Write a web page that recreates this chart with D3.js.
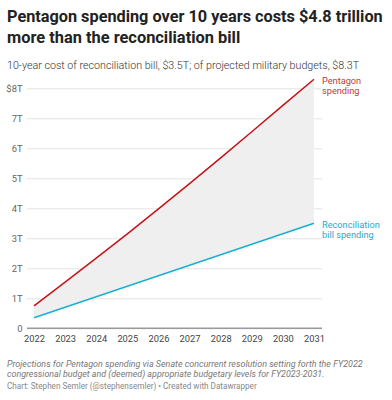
<!DOCTYPE html>
<html>
<head>
<meta charset="utf-8">
<script src="https://cdn.jsdelivr.net/npm/d3@7"></script>
<style>
  body { margin: 0; background: #fff; font-family: Roboto, "Noto Sans", sans-serif; }
  svg text { font-family: Roboto, "Noto Sans", sans-serif; }
</style>
</head>
<body>
<svg id="chart" width="392" height="400"></svg>
<script>
// data (cumulative, trillions of dollars)
const years = [2022, 2023, 2024, 2025, 2026, 2027, 2028, 2029, 2030, 2031];
const pentagon = [0.75, 1.54, 2.34, 3.15, 3.98, 4.82, 5.68, 6.55, 7.43, 8.3];
const reconciliation = [0.35, 0.7, 1.05, 1.4, 1.75, 2.1, 2.45, 2.8, 3.15, 3.5];
const yTicks = [0, 1, 2, 3, 4, 5, 6, 7, 8];

const title = ["Pentagon spending over 10 years costs $4.8 trillion", "more than the reconciliation bill"];
const subtitle = "10-year cost of reconciliation bill, $3.5T; of projected military budgets, $8.3T";
const notes = ["Projections for Pentagon spending via Senate concurrent resolution setting forth the FY2022",
  "congressional budget and (deemed) appropriate budgetary levels for FY2023-2031."];
const credit = "Chart: Stephen Semler (@stephensemler) \u2022 Created with Datawrapper";

let svg = d3.select("#chart");

// shrink a text so it spans the given width
function fit(sel, w) {
  let fs = +sel.attr("font-size");
  let len = sel.node().getComputedTextLength();
  sel.attr("font-size", (fs * w / len).toFixed(2));
  return sel;
}

// header
fit(svg.append("text").attr("x", 7).attr("y", 22)
  .attr("font-size", 16.5).attr("font-weight", 700).attr("fill", "#222")
  .text(title[0]), 376);
svg.append("text").attr("x", 7).attr("y", 43)
  .attr("font-size", 16.4).attr("font-weight", 700).attr("fill", "#222")
  .text(title[1]);
fit(svg.append("text").attr("x", 7).attr("y", 69)
  .attr("font-size", 12).attr("font-weight", 300).attr("fill", "#333")
  .text(subtitle), 352);

let x = d3.scaleLinear().domain([2022, 2031]).range([34, 314]);
let y = d3.scaleLinear().domain([0, 8]).range([328.3, 88.3]);

let rows = years.map((yr, i) => ({year: yr, p: pentagon[i], r: reconciliation[i]}));

// gridlines + y labels
let yAxis = d3.axisLeft(y).tickValues(yTicks)
  .tickSize(-(322 - 27))
  .tickFormat(d => d === 8 ? "$8T" : (d === 0 ? "0" : d + "T"));
let gy = svg.append("g").attr("transform", "translate(27,0)").call(yAxis);
gy.select(".domain").remove();
gy.selectAll(".tick line").attr("stroke", "#e3e3e3").attr("stroke-width", 1);
gy.selectAll(".tick text").attr("x", -4.5).attr("fill", "#666").attr("font-size", 9.4);

// area between series
svg.append("path").datum(rows)
  .attr("fill", "#efefef")
  .attr("d", d3.area().x(d => x(d.year)).y0(d => y(d.r)).y1(d => y(d.p)));

// baseline
svg.append("line").attr("x1", 27).attr("x2", 322)
  .attr("y1", y(0)).attr("y2", y(0))
  .attr("stroke", "#999").attr("stroke-width", 1.5);

// x axis labels
let xAxis = d3.axisBottom(x).tickValues(years).tickSize(0).tickFormat(d3.format("d"));
let gx = svg.append("g").attr("transform", "translate(0," + y(0) + ")").call(xAxis);
gx.select(".domain").remove();
gx.selectAll(".tick text").attr("dy", "0").attr("y", 13.3).attr("fill", "#444").attr("font-size", 9.3);

// lines
let line = key => d3.line().x(d => x(d.year)).y(d => y(d[key]));
svg.append("path").datum(rows).attr("fill", "none")
  .attr("stroke", "#c4141b").attr("stroke-width", 1.5).attr("d", line("p"));
svg.append("path").datum(rows).attr("fill", "none")
  .attr("stroke", "#17b0d4").attr("stroke-width", 1.5).attr("d", line("r"));

// direct labels
let lbl = (lines, yy, col) => {
  lines.forEach((t, i) => {
    svg.append("text").attr("x", 322).attr("y", yy + i * 10.5)
      .attr("font-size", 9.2).attr("fill", col).text(t);
  });
};
lbl(["Pentagon", "spending"], y(pentagon[9]) + 4.3, "#c4373a");
lbl(["Reconciliation", "bill spending"], y(reconciliation[9]) + 4.3, "#26a9cd");

// footer
notes.forEach((t, i) => {
  fit(svg.append("text").attr("x", 7).attr("y", 366.5 + i * 10.5)
    .attr("font-size", 10).attr("font-style", "italic").attr("fill", "#777").text(t), i ? 318 : 356);
});
fit(svg.append("text").attr("x", 7).attr("y", 388.5)
  .attr("font-size", 9).attr("fill", "#888").text(credit), 250);
</script>
</body>
</html>
